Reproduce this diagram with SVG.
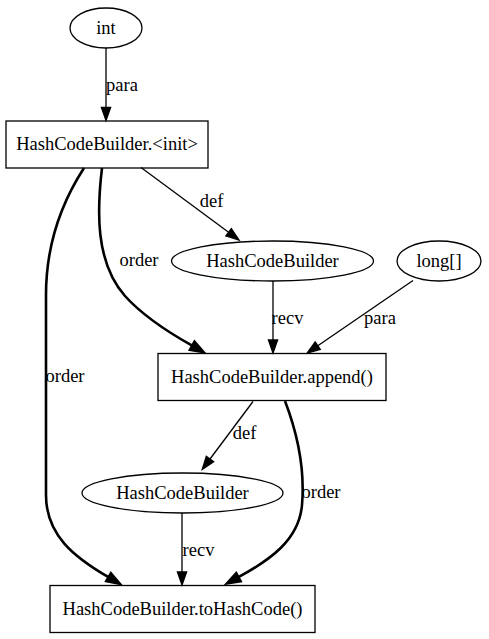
<svg xmlns="http://www.w3.org/2000/svg" width="489" height="639" viewBox="0 0 489 639">
<style>
.n{fill:none;stroke:#000;stroke-width:1.3}
.t{font-family:'Liberation Serif','DejaVu Serif',serif;font-size:18.5px;fill:#000;text-anchor:middle}
.e{fill:none;stroke:#000;stroke-width:1.3}
.b{fill:none;stroke:#000;stroke-width:2.6}
</style>
<defs>
<marker id="a" markerUnits="userSpaceOnUse" orient="auto" refX="0" refY="0" markerWidth="20" markerHeight="20" overflow="visible">
<path d="M0,-4.6 L13,0 L0,4.6 Z" fill="#000" stroke="#000" stroke-width="1.3"/>
</marker>
<marker id="ab" markerUnits="userSpaceOnUse" orient="auto" refX="0" refY="0" markerWidth="20" markerHeight="20" overflow="visible">
<path d="M0,-4.6 L13,0 L0,4.6 Z" fill="#000" stroke="#000" stroke-width="2.6"/>
</marker>
</defs>
<rect width="489" height="639" fill="#fff"/>
<g id="edges">
<path class="e" d="M106,48 L106,107.5" marker-end="url(#a)"/>
<text class="t" x="122" y="91">para</text>
<path class="e" d="M141,167.5 L228.6,232.3" marker-end="url(#a)"/>
<text class="t" x="211.5" y="207">def</text>
<path class="b" d="M102,168 C97,210 95,262 125,296 C143,316 166,331 192.2,345.7" marker-end="url(#ab)"/>
<text class="t" x="139" y="266">order</text>
<path class="b" d="M84,168 C60,205 46,245 46,295 L46,495 C46,535 74,557 108.6,577.2" marker-end="url(#ab)"/>
<text class="t" x="65" y="382">order</text>
<path class="e" d="M273,281 L273,340" marker-end="url(#a)"/>
<text class="t" x="287.5" y="324">recv</text>
<path class="e" d="M413,280.5 L317.8,345.7" marker-end="url(#a)"/>
<text class="t" x="380" y="324">para</text>
<path class="e" d="M253,401.5 L210,459" marker-end="url(#a)"/>
<text class="t" x="244.5" y="439">def</text>
<path class="b" d="M285,401 C298,435 305,470 302,505 C299,540 270,560 238.4,577.2" marker-end="url(#ab)"/>
<text class="t" x="321" y="498">order</text>
<path class="e" d="M182,513 L182,572" marker-end="url(#a)"/>
<text class="t" x="198.5" y="556">recv</text>
</g>
<g id="int">
<ellipse class="n" cx="106" cy="28" rx="36" ry="20"/>
<text class="t" x="106" y="34">int</text>
</g>
<g id="init">
<rect class="n" x="6" y="121" width="202" height="47"/>
<text class="t" x="107" y="150">HashCodeBuilder.&lt;init&gt;</text>
</g>
<g id="hcb1">
<ellipse class="n" cx="272.5" cy="261" rx="101" ry="20"/>
<text class="t" x="272.5" y="267">HashCodeBuilder</text>
</g>
<g id="long">
<ellipse class="n" cx="439" cy="261" rx="42" ry="20"/>
<text class="t" x="439" y="267">long[]</text>
</g>
<g id="append">
<rect class="n" x="158" y="353.5" width="228" height="47"/>
<text class="t" x="272" y="383">HashCodeBuilder.append()</text>
</g>
<g id="hcb2">
<ellipse class="n" cx="182.5" cy="493" rx="100.5" ry="20"/>
<text class="t" x="182.5" y="499">HashCodeBuilder</text>
</g>
<g id="toHashCode">
<rect class="n" x="50" y="585.5" width="265" height="47"/>
<text class="t" x="182.5" y="615">HashCodeBuilder.toHashCode()</text>
</g>
</svg>
